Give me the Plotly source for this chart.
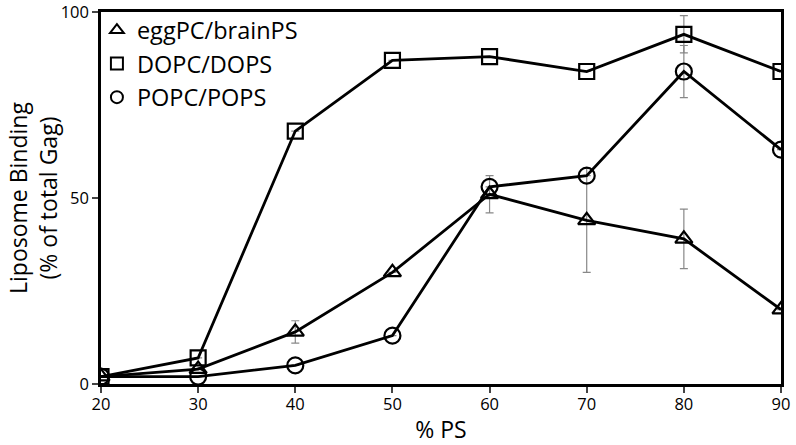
import plotly.graph_objects as go

ps = [20, 30, 40, 50, 60, 70, 80, 90]
egg = [2, 4, 14, 30, 51, 44, 39, 20]
egg_err = [None, None, 3, None, 5, 14, 8, None]
dopc = [2, 7, 68, 87, 88, 84, 94, 84]
dopc_err = [None, None, None, None, None, None, 5, None]
popc = [2, 2, 5, 13, 53, 56, 84, 63]
popc_err = [None, None, None, None, None, None, 7, None]

names = ["eggPC/brainPS", "DOPC/DOPS", "POPC/POPS"]
symbols = ["triangle-up-open", "square-open", "circle-open"]
sizes = [15, 15, 16]
series = [egg, dopc, popc]
errs = [egg_err, dopc_err, popc_err]

fig = go.Figure()
for name, sym, sz, ys, er in zip(names, symbols, sizes, series, errs):
    fig.add_trace(go.Scatter(
        x=ps, y=ys, mode="lines+markers", showlegend=False,
        line=dict(color="black", width=2.8),
        marker=dict(symbol=sym, size=sz, color="black", line=dict(width=2.2, color="black")),
        error_y=dict(type="data", array=er, visible=True, color="#888888", thickness=1.2, width=4),
    ))
for i, (name, sym, sz) in enumerate(zip(names, symbols, sizes)):
    fig.add_trace(go.Scatter(
        x=[None], y=[None], mode="markers", name=name, legendgroup="g%d" % i,
        marker=dict(symbol=sym, size=sz, color="black", line=dict(width=2, color="black")),
    ))

fig.update_layout(
    width=796, height=445,
    margin=dict(l=101, r=15, t=12, b=61, autoexpand=False),
    plot_bgcolor="white", paper_bgcolor="white",
    font=dict(family="Open Sans, Noto Sans, sans-serif", color="black"),
    legend=dict(x=-0.006, y=1.01, xanchor="left", yanchor="top", bgcolor="rgba(0,0,0,0)",
                font=dict(size=23.5), itemsizing="constant", tracegroupgap=0),
    xaxis=dict(range=[20, 90], tickvals=ps, ticks="outside", ticklen=6, tickwidth=2,
               showline=True, linecolor="black", linewidth=2.5, mirror=True, automargin=False,
               showgrid=False, zeroline=False, tickfont=dict(size=16.5), ticklabeloverflow="allow",
               ticklabelstandoff=-3,
               title=dict(text="% PS", font=dict(size=23), standoff=10)),
    yaxis=dict(range=[0, 100], tickvals=[0, 50, 100], ticks="outside", ticklen=6, tickwidth=2,
               showline=True, linecolor="black", linewidth=2.5, mirror=True, automargin=False,
               showgrid=False, zeroline=False, tickfont=dict(size=16.5), ticklabeloverflow="allow"),
    annotations=[dict(text="Liposome Binding<br>(% of total Gag)", textangle=-90,
                      xref="paper", yref="paper", x=0, y=0.5, xanchor="center", yanchor="middle",
                      xshift=-68, showarrow=False, font=dict(size=23))],
)
fig.write_html("out.html", config={"displayModeBar": False},
               post_script="document.body.style.margin='0';document.body.style.overflow='hidden';")
